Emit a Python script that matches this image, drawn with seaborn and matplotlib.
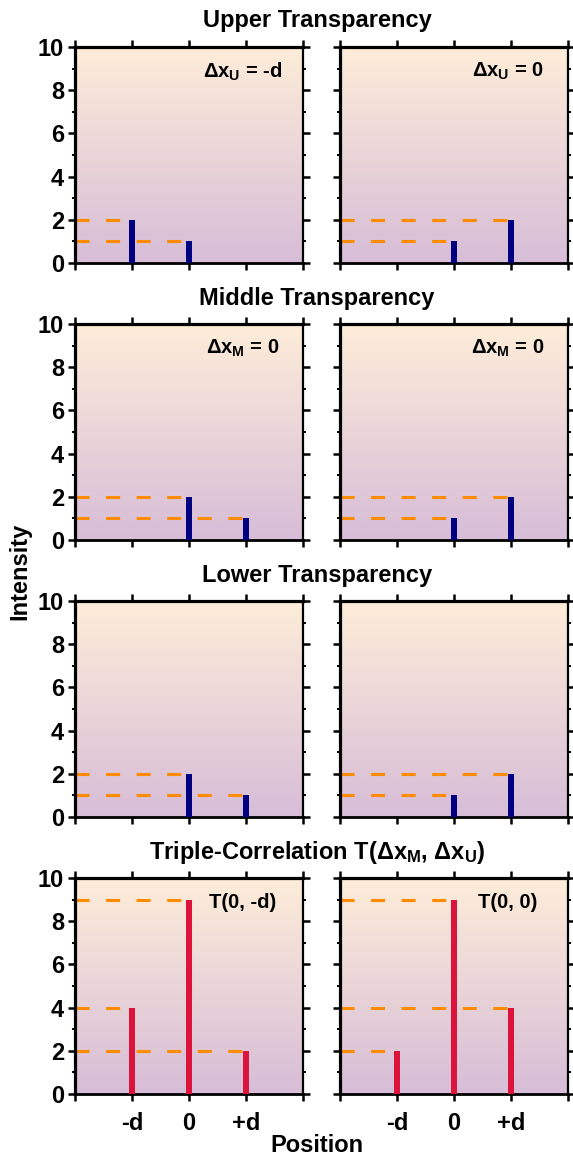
import numpy as np
import pandas as pd
import matplotlib
matplotlib.use("Agg")
import matplotlib.pyplot as plt
import seaborn as sns

# ---------------- data ----------------
row_titles = ["Upper Transparency", "Middle Transparency", "Lower Transparency",
              "Triple-Correlation T(" + r"$\Delta\mathbf{x}_\mathbf{M}$" + ", " + r"$\Delta\mathbf{x}_\mathbf{U}$" + ")"]

upper_left_pos = [-1, 0]
upper_left_val = [2, 1]
upper_right_pos = [0, 1]
upper_right_val = [1, 2]
middle_left_pos = [0, 1]
middle_left_val = [2, 1]
middle_right_pos = [0, 1]
middle_right_val = [1, 2]
lower_left_pos = [0, 1]
lower_left_val = [2, 1]
lower_right_pos = [0, 1]
lower_right_val = [1, 2]
triple_left_pos = [-1, 0, 1]
triple_left_val = [4, 9, 2]
triple_right_pos = [-1, 0, 1]
triple_right_val = [2, 9, 4]

annotations = [[r"$\Delta\mathbf{x}_\mathbf{U}$" + " = -d", r"$\Delta\mathbf{x}_\mathbf{U}$" + " = 0"],
               [r"$\Delta\mathbf{x}_\mathbf{M}$" + " = 0", r"$\Delta\mathbf{x}_\mathbf{M}$" + " = 0"],
               ["", ""],
               ["T(0, -d)", "T(0, 0)"]]

x_ticks = [-2, -1, 0, 1, 2]
x_tick_labels = ["", "-d", "0", "+d", ""]
y_ticks = [0, 2, 4, 6, 8, 10]

panels = [[(upper_left_pos, upper_left_val), (upper_right_pos, upper_right_val)],
          [(middle_left_pos, middle_left_val), (middle_right_pos, middle_right_val)],
          [(lower_left_pos, lower_left_val), (lower_right_pos, lower_right_val)],
          [(triple_left_pos, triple_left_val), (triple_right_pos, triple_right_val)]]
bar_colors = ["#000080", "#000080", "#000080", "#DC143C"]

# ---------------- style ----------------
sns.set_theme(style="ticks")
plt.rcParams["font.family"] = ["Liberation Sans", "DejaVu Sans"]
plt.rcParams["font.weight"] = "bold"
plt.rcParams["text.color"] = "black"
plt.rcParams["axes.labelcolor"] = "black"
plt.rcParams["xtick.color"] = "black"
plt.rcParams["ytick.color"] = "black"
plt.rcParams["xtick.labelcolor"] = "black"
plt.rcParams["ytick.labelcolor"] = "black"
plt.rcParams["mathtext.fontset"] = "custom"
plt.rcParams["mathtext.rm"] = "Liberation Sans"
plt.rcParams["mathtext.bf"] = "Liberation Sans:bold"
plt.rcParams["mathtext.it"] = "Liberation Sans:bold"

W, H = 573, 1159
fig = plt.figure(figsize=(W / 100, H / 100), dpi=100)

col_left = [75, 340]
row_top = [47, 324, 601, 878]
aw, ah = 228, 216
title_y = [20, 298, 576, 852]

top_col = np.array([253, 237, 217]) / 255
bot_col = np.array([215, 189, 215]) / 255
grad = np.linspace(0, 1, 256)[:, None]
grad_img = top_col[None, None, :] * (1 - grad[..., None]) + bot_col[None, None, :] * grad[..., None]

for r in range(4):
    fig.text(317 / W, 1 - title_y[r] / H, row_titles[r], ha="center", va="center",
             fontsize=17, fontweight="bold", color="black")
    for c in range(2):
        ax = fig.add_axes([col_left[c] / W, 1 - (row_top[r] + ah) / H, aw / W, ah / H])
        ax.imshow(grad_img, extent=[-2, 2, 0, 10], aspect="auto", zorder=0,
                  interpolation="bicubic")
        pos, val = panels[r][c]
        df = pd.DataFrame({"pos": pos, "val": val})
        sns.barplot(data=df, x="pos", y="val", native_scale=True, width=0.1,
                    color=bar_colors[r], saturation=1, errorbar=None, ax=ax,
                    zorder=3, linewidth=0)
        for p, v in zip(pos, val):
            ax.hlines(v, -2, p, colors="#FF8C00", linewidth=2.2,
                      linestyles=(0, (4.6, 5.4)), zorder=2)
        ax.set_xlim(-2, 2)
        ax.set_ylim(0, 10)
        ax.set_xlabel("")
        ax.set_ylabel("")
        ax.set_xticks(x_ticks)
        ax.set_yticks(y_ticks)
        ax.set_yticks([1, 3, 5, 7, 9], minor=True)
        ax.tick_params(axis="both", which="major", direction="out", length=5, width=1.8,
                       top=True, right=True, labelsize=17, pad=3, color="black",
                       labelcolor="black")
        ax.tick_params(axis="x", which="major", pad=8)
        ax.tick_params(axis="y", which="minor", direction="out", length=2.5, width=1.4,
                       left=True, right=True, color="black")
        if r == 3:
            ax.set_xticklabels(x_tick_labels)
        else:
            ax.set_xticklabels([])
        if c == 0:
            ax.set_yticklabels([str(t) for t in y_ticks])
        else:
            ax.set_yticklabels([])
        for lab in ax.get_xticklabels() + ax.get_yticklabels():
            lab.set_fontweight("bold")
            lab.set_color("black")
        for side in ["top", "left", "bottom", "right"]:
            ax.spines[side].set_visible(True)
            ax.spines[side].set_color("black")
        ax.spines["top"].set_linewidth(2.3)
        ax.spines["left"].set_linewidth(2.3)
        ax.spines["bottom"].set_linewidth(2.0)
        ax.spines["right"].set_linewidth(1.6)
        txt = annotations[r][c]
        if txt:
            ax.text(0.735, 0.885, txt, transform=ax.transAxes, ha="center", va="center",
                    fontsize=14.5, fontweight="bold", zorder=5, color="black")

fig.text(20 / W, 1 - 571 / H, "Intensity", rotation=90, ha="center", va="center",
         fontsize=17, fontweight="bold", color="black")
fig.text(317 / W, 1 - 1146 / H, "Position", ha="center", va="center",
         fontsize=17, fontweight="bold", color="black")

fig.savefig("out.png", dpi=100)
